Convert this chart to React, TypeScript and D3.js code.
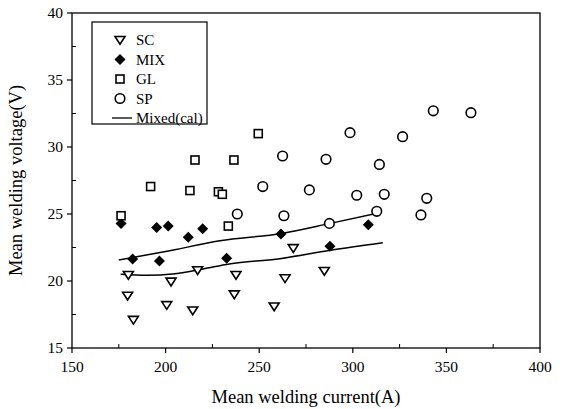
import React from "react";
import * as d3 from "d3";

// Welding current (A) / voltage (V) measurements per transfer mode
const scCurrent = [180.1, 179.7, 182.8, 202.9, 200.6, 214.5, 217.1, 237.6, 236.7, 258, 263.8, 268.2, 284.8];
const scVoltage = [20.45, 18.9, 17.1, 19.95, 18.2, 17.8, 20.8, 20.45, 19.0, 18.1, 20.2, 22.45, 20.75];

const mixCurrent = [176.2, 182.4, 195.2, 201.4, 196.7, 212.1, 219.8, 232.6, 261.6, 287.8, 308.3];
const mixVoltage = [24.3, 21.64, 24.0, 24.1, 21.5, 23.26, 23.9, 21.7, 23.5, 22.6, 24.2];

const glCurrent = [176.2, 192, 213, 228.2, 230.3, 233.5, 215.7, 236.5, 249.5];
const glVoltage = [24.87, 27.05, 26.75, 26.66, 26.47, 24.1, 29.03, 29.03, 31.0];

const spCurrent = [238.3, 251.9, 263.2, 262.5, 276.8, 285.7, 287.5, 298.5, 302.1, 312.8, 314.2, 316.8, 326.6, 336.4, 339.5, 343, 363.1];
const spVoltage = [25.0, 27.05, 24.87, 29.33, 26.8, 29.08, 24.3, 31.07, 26.4, 25.2, 28.7, 26.47, 30.77, 24.93, 26.17, 32.7, 32.56];

// Calculated curves for the mixed mode (upper and lower bound)
const calUpperCurrent = [175, 200, 229, 262, 288, 313];
const calUpperVoltage = [21.57, 22.2, 23.0, 23.55, 24.3, 25.05];
const calLowerCurrent = [176, 190, 205, 220, 234, 260, 288, 316];
const calLowerVoltage = [20.5, 20.42, 20.55, 20.9, 21.27, 21.65, 22.3, 22.86];

const xTicks = [150, 200, 250, 300, 350, 400];
const yTicks = [15, 20, 25, 30, 35, 40];
const xMinor = [175, 225, 275, 325, 375];
const yMinor = [17.5, 22.5, 27.5, 32.5, 37.5];

const legendLabels = ["SC", "MIX", "GL", "SP", "Mixed(cal)"];

const FONT = "Liberation Serif, Times New Roman, DejaVu Serif, serif";

const W = 567;
const H = 409;
const left = 72;
const right = 540;
const top = 13;
const bottom = 348;

const zip = (xs: number[], ys: number[]) => xs.map((x, i) => [x, ys[i]] as [number, number]);

function Marker({ kind, cx, cy }: { kind: string; cx: number; cy: number }) {
  const sw = 1.6;
  if (kind === "SC") {
    const s = 5;
    return (
      <path
        d={`M${cx - s},${cy - s * 0.7} L${cx + s},${cy - s * 0.7} L${cx},${cy + s * 0.85} Z`}
        fill="#fff"
        stroke="#000"
        strokeWidth={sw}
      />
    );
  }
  if (kind === "MIX") {
    const s = 5.5;
    return <path d={`M${cx},${cy - s} L${cx + s},${cy} L${cx},${cy + s} L${cx - s},${cy} Z`} fill="#000" />;
  }
  if (kind === "GL") {
    const s = 4;
    return <rect x={cx - s} y={cy - s} width={2 * s} height={2 * s} fill="#fff" stroke="#000" strokeWidth={sw} />;
  }
  return <circle cx={cx} cy={cy} r={4.8} fill="#fff" stroke="#000" strokeWidth={sw} />;
}

export default function App() {
  const x = d3.scaleLinear().domain([150, 400]).range([left, right]);
  const y = d3.scaleLinear().domain([15, 40]).range([bottom, top]);
  const line = d3
    .line<[number, number]>()
    .x((d) => x(d[0]))
    .y((d) => y(d[1]))
    .curve(d3.curveMonotoneX);

  const series = [
    { kind: "SC", pts: zip(scCurrent, scVoltage) },
    { kind: "MIX", pts: zip(mixCurrent, mixVoltage) },
    { kind: "GL", pts: zip(glCurrent, glVoltage) },
    { kind: "SP", pts: zip(spCurrent, spVoltage) },
  ];

  const legX = 92;
  const legY = 22;
  const txt = { fontFamily: FONT } as React.CSSProperties;

  return (
    <svg width={W} height={H} style={{ position: "absolute", left: 0, top: 0, background: "#fff" }}>
      {/* frame */}
      <rect x={left} y={top} width={right - left} height={bottom - top} fill="none" stroke="#000" strokeWidth={1.3} />

      {/* x ticks */}
      {xTicks.map((t) => (
        <g key={"xt" + t}>
          <line x1={x(t)} x2={x(t)} y1={bottom} y2={bottom + 5} stroke="#000" strokeWidth={1.2} />
          <text x={x(t)} y={bottom + 24} textAnchor="middle" style={txt} fontSize={15.5}>
            {t}
          </text>
        </g>
      ))}
      {xMinor.map((t) => (
        <line key={"xm" + t} x1={x(t)} x2={x(t)} y1={bottom} y2={bottom - 4} stroke="#000" strokeWidth={1} />
      ))}

      {/* y ticks */}
      {yTicks.map((t) => (
        <g key={"yt" + t}>
          <line x1={left - 5} x2={left} y1={y(t)} y2={y(t)} stroke="#000" strokeWidth={1.2} />
          <text x={left - 9} y={y(t) + 5} textAnchor="end" style={txt} fontSize={15.5}>
            {t}
          </text>
        </g>
      ))}
      {yMinor.map((t) => (
        <line key={"ym" + t} x1={left} x2={left + 4} y1={y(t)} y2={y(t)} stroke="#000" strokeWidth={1} />
      ))}

      {/* axis titles */}
      <text x={(left + right) / 2} y={403} textAnchor="middle" style={txt} fontSize={18.5}>
        Mean welding current(A)
      </text>
      <text
        transform={`translate(22,${(top + bottom) / 2}) rotate(-90)`}
        textAnchor="middle"
        style={txt}
        fontSize={18.5}
      >
        Mean welding voltage(V)
      </text>

      {/* calculated curves */}
      <path d={line(zip(calUpperCurrent, calUpperVoltage)) || ""} fill="none" stroke="#000" strokeWidth={1.5} />
      <path d={line(zip(calLowerCurrent, calLowerVoltage)) || ""} fill="none" stroke="#000" strokeWidth={1.5} />

      {/* measured points */}
      {series.map((s) =>
        s.pts.map((p, i) => <Marker key={s.kind + i} kind={s.kind} cx={x(p[0])} cy={y(p[1])} />)
      )}

      {/* legend */}
      <rect x={legX} y={legY} width={115} height={102} fill="#fff" stroke="#000" strokeWidth={1.2} />
      {legendLabels.map((lab, i) => {
        const cy = legY + 18 + i * 19.5;
        return (
          <g key={lab}>
            {i < 4 ? (
              <Marker kind={lab} cx={legX + 28} cy={cy} />
            ) : (
              <line x1={legX + 20} x2={legX + 40} y1={cy} y2={cy} stroke="#000" strokeWidth={1.3} />
            )}
            <text x={legX + 44} y={cy + 5} style={txt} fontSize={15}>
              {lab}
            </text>
          </g>
        );
      })}
    </svg>
  );
}
